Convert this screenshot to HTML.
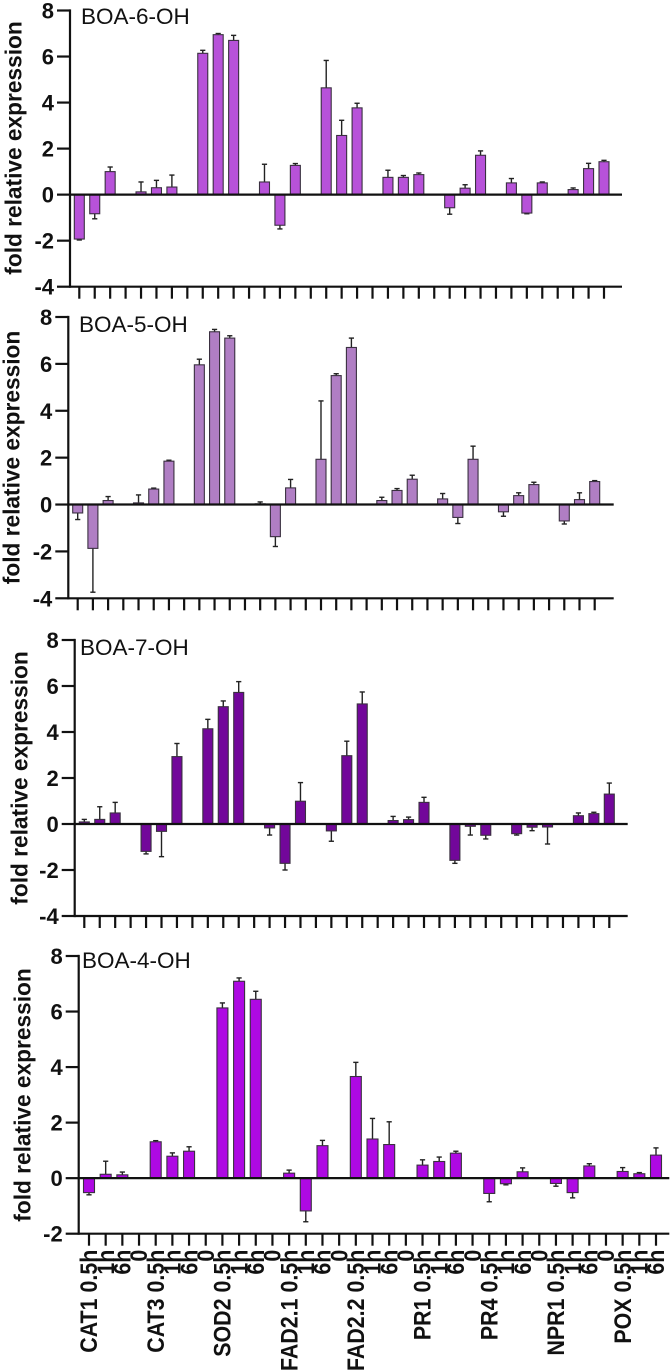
<!DOCTYPE html>
<html lang="en">
<head>
<meta charset="utf-8">
<title>Fold relative expression of defence genes after BOA treatments</title>
<style>
html,body{margin:0;padding:0;background:#fff;}
svg{display:block;}
text{font-family:"Liberation Sans",sans-serif;fill:#111;}
.tick-label{font-weight:bold;font-size:22px;}
.x-label{font-weight:bold;font-size:21.4px;}
.axis-title{font-weight:bold;font-size:22.7px;}
.panel-title{font-size:22.5px;}
</style>
</head>
<body>
<svg id="figure" width="672" height="1370" viewBox="0 0 672 1370" xmlns="http://www.w3.org/2000/svg">
  <g id="panel-boa6">
    <text class="panel-title" x="81" y="24">BOA-6-OH</text>
    <text class="axis-title" transform="translate(21.5,148) rotate(-90)" text-anchor="middle">fold relative expression</text>
  </g>
  <g id="panel-boa5">
    <text class="panel-title" x="79" y="332">BOA-5-OH</text>
    <text class="axis-title" transform="translate(19.5,457.5) rotate(-90)" text-anchor="middle">fold relative expression</text>
  </g>
  <g id="panel-boa7">
    <text class="panel-title" x="80" y="655">BOA-7-OH</text>
    <text class="axis-title" transform="translate(27.3,778) rotate(-90)" text-anchor="middle">fold relative expression</text>
  </g>
  <g id="panel-boa4">
    <text class="panel-title" x="82" y="968">BOA-4-OH</text>
    <text class="axis-title" transform="translate(30.5,1095) rotate(-90)" text-anchor="middle">fold relative expression</text>
  </g>
</svg>
<script>
const categories = ["CAT1 0.5h","1h","6h","0","CAT3 0.5h","1h","6h","0","SOD2 0.5h","1h","6h","0","FAD2.1 0.5h","1h","6h","0","FAD2.2 0.5h","1h","6h","0","PR1 0.5h","1h","6h","0","PR4 0.5h","1h","6h","0","NPR1 0.5h","1h","6h","0","POX 0.5h","1h","6h"];

const boa6Values = [-1.93,-0.83,1.0,null,0.12,0.3,0.33,null,6.14,6.95,6.7,null,0.55,-1.33,1.27,null,4.64,2.57,3.77,null,0.75,0.75,0.87,null,-0.57,0.28,1.71,null,0.51,-0.8,0.51,null,0.22,1.13,1.43];
const boa6Errors = [0.04,0.22,0.2,null,0.43,0.32,0.52,null,0.13,0.05,0.22,null,0.77,0.16,0.08,null,1.19,0.66,0.2,null,0.31,0.08,0.07,null,0.28,0.15,0.19,null,0.19,0.03,0.04,null,0.07,0.23,0.06];

const boa5Values = [-0.36,-1.87,0.17,null,0.07,0.66,1.85,null,5.96,7.37,7.1,null,0.03,-1.37,0.71,null,1.93,5.5,6.7,null,0.17,0.6,1.08,null,0.24,-0.55,1.93,null,-0.31,0.38,0.85,null,-0.7,0.21,0.98];
const boa5Errors = [0.28,1.87,0.17,null,0.34,0.04,0.04,null,0.24,0.1,0.1,null,0.08,0.42,0.36,null,2.49,0.08,0.4,null,0.14,0.08,0.17,null,0.23,0.26,0.56,null,0.19,0.12,0.1,null,0.13,0.29,0.04];

const boa7Values = [0.09,0.2,0.48,null,-1.19,-0.32,2.93,null,4.14,5.1,5.72,null,-0.17,-1.71,0.99,null,-0.3,2.97,5.22,null,0.15,0.19,0.94,null,-1.58,-0.1,-0.49,null,-0.42,-0.14,-0.13,null,0.36,0.45,1.3];
const boa7Errors = [0.11,0.55,0.46,null,0.11,1.1,0.57,null,0.41,0.25,0.47,null,0.31,0.29,0.81,null,0.45,0.63,0.52,null,0.18,0.11,0.22,null,0.13,0.38,0.16,null,0.06,0.15,0.74,null,0.12,0.06,0.48];

const boa4Values = [-0.52,0.14,0.12,null,1.31,0.79,0.97,null,6.13,7.09,6.44,null,0.18,-1.18,1.17,null,3.66,1.41,1.21,null,0.47,0.6,0.9,null,-0.55,-0.2,0.23,null,-0.19,-0.52,0.44,null,0.24,0.16,0.83];
const boa4Errors = [0.08,0.47,0.1,null,0.04,0.12,0.16,null,0.18,0.12,0.29,null,0.11,0.39,0.19,null,0.51,0.74,0.82,null,0.19,0.16,0.07,null,0.3,0.04,0.14,null,0.1,0.19,0.08,null,0.14,0.04,0.26];

const yTicksFull = [8,6,4,2,0,-2,-4];
const yTicksShort = [8,6,4,2,0,-2];

const SVG_NS = "http://www.w3.org/2000/svg";

function make(parent, tag, attrs) {
  const node = document.createElementNS(SVG_NS, tag);
  for (const key in attrs) node.setAttribute(key, attrs[key]);
  parent.appendChild(node);
  return node;
}

function drawPanel(cfg) {
  const root = document.getElementById(cfg.id);
  const yMax = cfg.yTicks[0];
  const yMin = cfg.yTicks[cfg.yTicks.length - 1];
  const scaleY = v => cfg.top + (yMax - v) * (cfg.bottom - cfg.top) / (yMax - yMin);
  const scaleX = i => cfg.firstX + i * (cfg.lastX - cfg.firstX) / (categories.length - 1);
  const zero = scaleY(0);
  const axisColor = "#111";
  const axisWidth = 2.2;

  cfg.values.forEach((value, i) => {
    if (value === null) return;
    const x = scaleX(i);
    const dir = value >= 0 ? 1 : -1;
    const tip = scaleY(value + dir * cfg.errors[i]);
    const end = scaleY(value);

    const stem = make(root, "line", {x1: x, x2: x, y1: end, y2: tip, stroke: "#222", "stroke-width": 1.4});
    
    

    const cap = make(root, "line", {x1: x - 2.6, x2: x + 2.6, y1: tip, y2: tip, stroke: "#222", "stroke-width": 1.4});
    
    

    const bar = make(root, "rect", {
      x: x - cfg.barWidth / 2,
      y: Math.min(end, zero),
      width: cfg.barWidth,
      height: Math.abs(end - zero),
      fill: cfg.color,
      stroke: "#3a3040",
      "stroke-width": 1.1
    });
    
    
  });

  const yAxis = make(root, "line", {x1: cfg.axisX, x2: cfg.axisX, y1: cfg.top - 1.1, y2: cfg.bottom + 1.1, stroke: axisColor, "stroke-width": axisWidth});
  
  

  const xAxis = make(root, "line", {x1: cfg.axisX, x2: cfg.axisEnd, y1: cfg.bottom, y2: cfg.bottom, stroke: axisColor, "stroke-width": axisWidth});
  
  

  const zeroLine = make(root, "line", {x1: cfg.axisX, x2: cfg.axisEnd, y1: zero, y2: zero, stroke: axisColor, "stroke-width": axisWidth});
  
  

  cfg.yTicks.forEach(v => {
    const y = scaleY(v);
    const tick = make(root, "line", {x1: cfg.axisX - 13, x2: cfg.axisX, y1: y, y2: y, stroke: axisColor, "stroke-width": axisWidth});
    
    

    const label = make(root, "text", {x: cfg.axisX - 16, y: y + 8, "text-anchor": "end", class: "tick-label"});
    
    
    label.textContent = String(v);
  });

  categories.forEach((name, i) => {
    const x = scaleX(i);
    const tick = make(root, "line", {x1: x, x2: x, y1: cfg.bottom, y2: cfg.bottom + 12, stroke: axisColor, "stroke-width": axisWidth});
    
    

    if (cfg.showLabels) {
      const label = make(root, "text", {
        transform: "translate(" + (x + 8.2) + "," + (cfg.bottom + 16) + ") rotate(-90) scale(1,1.12)",
        "text-anchor": "end",
        class: "x-label"
      });
      
      
      label.textContent = name;
    }
  });
}

drawPanel({id: "panel-boa6", values: boa6Values, errors: boa6Errors, yTicks: yTicksFull, color: "#b752d9",
  axisX: 70, axisEnd: 622, top: 10.5, bottom: 286.7, firstX: 79.3, lastX: 604, barWidth: 10, showLabels: false});
drawPanel({id: "panel-boa5", values: boa5Values, errors: boa5Errors, yTicks: yTicksFull, color: "#b07ec4",
  axisX: 68.3, axisEnd: 613.7, top: 317, bottom: 598.3, firstX: 77.7, lastX: 594.7, barWidth: 10, showLabels: false});
drawPanel({id: "panel-boa7", values: boa7Values, errors: boa7Errors, yTicks: yTicksFull, color: "#72079a",
  axisX: 74.7, axisEnd: 627.7, top: 640, bottom: 916, firstX: 84.3, lastX: 609.3, barWidth: 10, showLabels: false});
drawPanel({id: "panel-boa4", values: boa4Values, errors: boa4Errors, yTicks: yTicksShort, color: "#ae09e3",
  axisX: 78.7, axisEnd: 669.3, top: 956, bottom: 1233.7, firstX: 89, lastX: 656, barWidth: 11, showLabels: true});
</script>
</body>
</html>
